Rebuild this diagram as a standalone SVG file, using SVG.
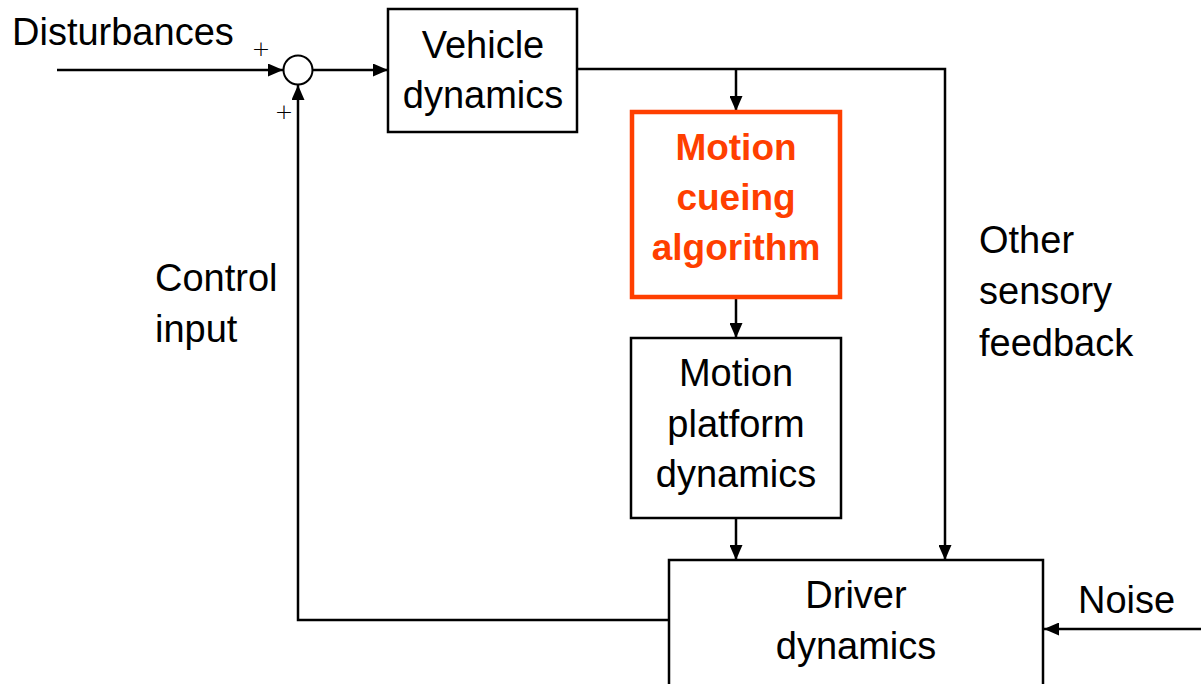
<svg xmlns="http://www.w3.org/2000/svg" width="1201" height="684" viewBox="0 0 1201 684">
<style>
.t{font-family:"Liberation Sans",Arial,sans-serif;font-size:38px;fill:#000;}
.c{text-anchor:middle;}
.r{font-weight:bold;fill:#FF3F00;font-size:37px;}
.box{fill:#fff;stroke:#000;stroke-width:2.5;}
.ln{fill:none;stroke:#000;stroke-width:2.5;}
.p{font-family:"DejaVu Sans",sans-serif;font-weight:200;font-size:22px;fill:#000;text-anchor:middle;}
</style>
<defs>
<marker id="ah" markerWidth="15" markerHeight="13" refX="15" refY="6.5" orient="auto" markerUnits="userSpaceOnUse">
<path d="M0,0 L15,6.5 L0,13 Z" fill="#000"/>
</marker>
</defs>
<rect width="1201" height="684" fill="#fff"/>
<g id="connectors">
<line class="ln" x1="57" y1="70" x2="283" y2="70" marker-end="url(#ah)"/>
<line class="ln" x1="313" y1="70" x2="388" y2="70" marker-end="url(#ah)"/>
<polyline class="ln" points="577,69 945,69 945,560" marker-end="url(#ah)"/>
<line class="ln" x1="736" y1="69" x2="736" y2="111" marker-end="url(#ah)"/>
<line class="ln" x1="736" y1="298" x2="736" y2="338" marker-end="url(#ah)"/>
<line class="ln" x1="736" y1="518" x2="736" y2="560" marker-end="url(#ah)"/>
<polyline class="ln" points="669,620 298,620 298,85" marker-end="url(#ah)"/>
<line class="ln" x1="1201" y1="629" x2="1044" y2="629" marker-end="url(#ah)"/>
</g>
<g id="sum">
<circle cx="298" cy="70" r="14.5" fill="#fff" stroke="#000" stroke-width="2"/>
<text class="p" x="261" y="56">+</text>
<text class="p" x="284" y="119">+</text>
</g>
<g id="vehicle">
<rect class="box" x="388" y="9" width="189" height="123"/>
<text class="t c" x="483" y="58">Vehicle</text>
<text class="t c" x="483" y="108">dynamics</text>
</g>
<g id="mca">
<rect x="632" y="112" width="208" height="185" fill="#fff" stroke="#FF3F00" stroke-width="4.5"/>
<text class="t c r" x="736" y="160">Motion</text>
<text class="t c r" x="736" y="210">cueing</text>
<text class="t c r" x="736" y="260">algorithm</text>
</g>
<g id="platform">
<rect class="box" x="631" y="338" width="210" height="180"/>
<text class="t c" x="736" y="386">Motion</text>
<text class="t c" x="736" y="437">platform</text>
<text class="t c" x="736" y="487">dynamics</text>
</g>
<g id="driver">
<rect class="box" x="669" y="560" width="374" height="140"/>
<text class="t c" x="856" y="608">Driver</text>
<text class="t c" x="856" y="659">dynamics</text>
</g>
<g id="labels">
<text class="t" x="12" y="45">Disturbances</text>
<text class="t" x="155" y="291">Control</text>
<text class="t" x="155" y="342">input</text>
<text class="t" x="979" y="253">Other</text>
<text class="t" x="979" y="304">sensory</text>
<text class="t" x="979" y="356">feedback</text>
<text class="t" x="1078" y="613">Noise</text>
</g>
</svg>
